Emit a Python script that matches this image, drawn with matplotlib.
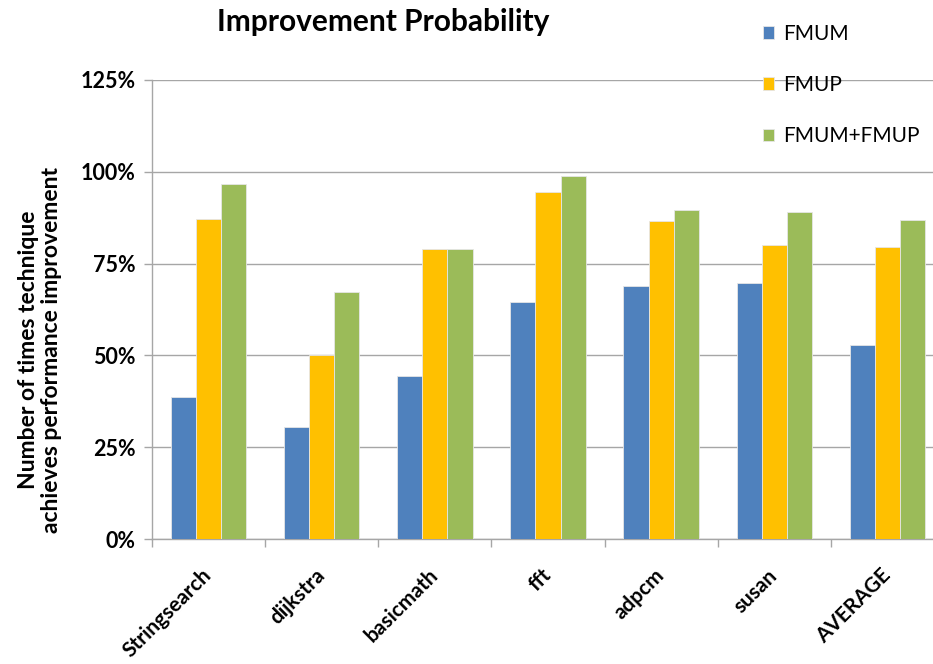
import numpy as np
import matplotlib
matplotlib.use("Agg")
import matplotlib.pyplot as plt
from matplotlib.ticker import FuncFormatter, FixedLocator

plt.rcParams['font.family'] = ['Lato', 'DejaVu Sans']

# benchmark names and improvement probability (%) per technique
benchmarks = ['Stringsearch', 'dijkstra', 'basicmath', 'fft', 'adpcm', 'susan', 'AVERAGE']
fmum = [38.6, 30.4, 44.3, 64.5, 68.9, 69.6, 52.8]
fmup = [87.1, 50.1, 79.1, 94.5, 86.5, 80.1, 79.4]
fmum_fmup = [96.7, 67.4, 79.1, 98.9, 89.6, 89.1, 86.8]

series = [('FMUM', fmum, '#4F81BD'),
          ('FMUP', fmup, '#FFC000'),
          ('FMUM+FMUP', fmum_fmup, '#9BBB59')]

fig = plt.figure(figsize=(9.33, 6.64), dpi=100)
ax = fig.add_axes([152 / 933, 125 / 664, 792 / 933, 459 / 664])

x = np.arange(len(benchmarks))
width = 0.222
for i, (name, vals, color) in enumerate(series):
    ax.bar(x + (i - 1) * width, vals, width, color=color, label=name,
           edgecolor='#E6E6E6', linewidth=0.6, zorder=3)

ax.set_xlim(-0.5, len(benchmarks) - 0.5)
ax.set_ylim(0, 125)
ax.set_yticks([0, 25, 50, 75, 100, 125])
ax.yaxis.set_major_formatter(FuncFormatter(lambda v, p: '%d%%' % v))
ax.grid(axis='y', color='#A6A6A6', linewidth=1, zorder=0)

for s in ['top', 'right']:
    ax.spines[s].set_visible(False)
for s in ['left', 'bottom']:
    ax.spines[s].set_color('#A6A6A6')
    ax.spines[s].set_linewidth(1)

ax.tick_params(axis='y', length=6, color='#A6A6A6', width=1, pad=6,
               labelsize=15.5)
for lbl in ax.get_yticklabels():
    lbl.set_fontweight('bold')

# category labels at centres, tick marks at the group boundaries
ax.set_xticks(x)
ax.set_xticklabels(benchmarks, rotation=45, ha='right', va='center',
                   rotation_mode='anchor', fontsize=15, fontweight='bold')
ax.tick_params(axis='x', which='major', length=0, pad=24)
ax.xaxis.set_minor_locator(FixedLocator(np.arange(-0.5, len(benchmarks), 1.0)))
ax.tick_params(axis='x', which='minor', length=6, color='#A6A6A6', width=1)

ax.set_ylabel('Number of times technique\nachieves performance improvement',
              fontsize=16.5, fontweight='bold', linespacing=1.1)
ax.yaxis.set_label_coords(-90 / 792, (539 - 350) / 459)

fig.text(383 / 933, 1 - 22 / 664, 'Improvement Probability', ha='center',
         va='center', fontsize=21.5, fontweight='bold')

fig.legend(loc='upper left', bbox_to_anchor=(744 / 933, 1 - 5 / 664),
           frameon=False, fontsize=15, labelspacing=1.5,
           handlelength=0.55, handleheight=0.55, handletextpad=0.45)

plt.savefig('out.png', dpi=100)
